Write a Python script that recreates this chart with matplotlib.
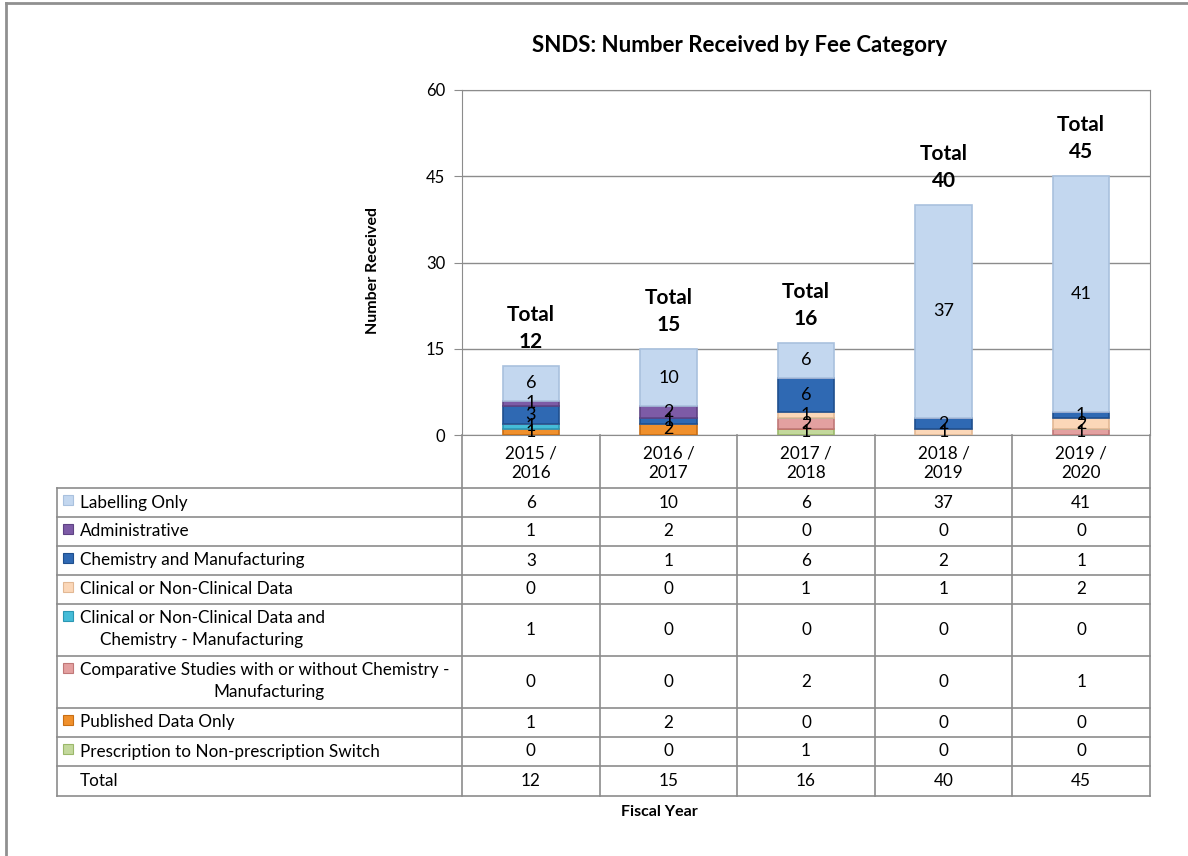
import matplotlib.pyplot as plt
import numpy as np

plt.rcParams['font.family'] = ['Lato', 'DejaVu Sans']

# data
years = ["2015 /\n2016", "2016 /\n2017", "2017 /\n2018", "2018 /\n2019", "2019 /\n2020"]
categories = ["Labelling Only", "Administrative", "Chemistry and Manufacturing",
              "Clinical or Non-Clinical Data",
              "Clinical or Non-Clinical Data and\nChemistry - Manufacturing",
              "Comparative Studies with or without Chemistry -\nManufacturing",
              "Published Data Only", "Prescription to Non-prescription Switch"]
labelling = [6, 10, 6, 37, 41]
administrative = [1, 2, 0, 0, 0]
chemistry = [3, 1, 6, 2, 1]
clinical = [0, 0, 1, 1, 2]
clin_chem = [1, 0, 0, 0, 0]
comparative = [0, 0, 2, 0, 1]
published = [1, 2, 0, 0, 0]
prescription = [0, 0, 1, 0, 0]
series = [labelling, administrative, chemistry, clinical, clin_chem,
          comparative, published, prescription]
colors = ["#c3d7ef", "#7d5ba6", "#2f69b3", "#fbd7b8", "#45bcd8",
          "#e3a0a0", "#f0902c", "#c3d89c"]
edges = ["#a9c1de", "#5f4384", "#1f4f8e", "#e2b894", "#2b97b3",
         "#c07878", "#c86e14", "#9bb86a"]
totals = [sum(v) for v in zip(*series)]

W, H = 1188, 856
fig = plt.figure(figsize=(W / 100, H / 100), dpi=100)

# plot area in pixels
x0, x1, y0, y1 = 462, 1150, 435, 90
ax = fig.add_axes([x0 / W, 1 - y0 / H, (x1 - x0) / W, (y0 - y1) / H])
ax.set_xlim(-0.5, 4.5)
ax.set_ylim(0, 60)
ax.set_yticks([0, 15, 30, 45, 60])
ax.set_xticks([])
ax.grid(axis='y', color='#8c8c8c', linewidth=1)
ax.set_axisbelow(True)
for s in ax.spines.values():
    s.set_color('#8c8c8c')
ax.tick_params(axis='y', direction='out', length=6, color='#8c8c8c',
               labelsize=12, pad=6)

x = np.arange(len(years))
bottom = np.zeros(len(years))
# stack from the last category (bottom) to the first (top)
for vals, c, e in zip(series[::-1], colors[::-1], edges[::-1]):
    vals = np.array(vals, dtype=float)
    ax.bar(x, vals, bottom=bottom, width=0.41, color=c, edgecolor=e,
           linewidth=1.2, zorder=3)
    for xi, v, b in zip(x, vals, bottom):
        if v > 0:
            ax.text(xi, b + v / 2, f"{int(v)}", ha='center', va='center',
                    fontsize=13, zorder=4)
    bottom += vals

for xi, t in zip(x, totals):
    ax.text(xi, t + 2.4, f"Total\n{t}", ha='center', va='bottom',
            fontsize=15, fontweight='bold', linespacing=1.45)

fig.text(740 / W, 1 - 45 / H, "SNDS: Number Received by Fee Category",
         ha='center', va='center', fontsize=16, fontweight='bold')
fig.text(373 / W, 1 - 270 / H, "Number Received", rotation=90, ha='center',
         va='center', fontsize=11.5, fontweight='bold')

# overlay for the data table and frame (pixel coordinates)
ov = fig.add_axes([0, 0, 1, 1])
ov.set_xlim(0, W)
ov.set_ylim(H, 0)
ov.axis('off')
ov.patch.set_alpha(0)

lc = '#8c8c8c'
ov.plot([6, 6], [3, H], color='#909090', lw=2)
ov.plot([6, W], [3, 3], color='#909090', lw=2)

fs = 12.3
tl = 57
col_w = (x1 - x0) / len(years)
col_x = [x0 + i * col_w for i in range(len(years) + 1)]
row_h = [52 if '\n' in c else 29 for c in categories] + [30]
row_y = [488]
for h in row_h:
    row_y.append(row_y[-1] + h)

for cx in col_x:
    ov.plot([cx, cx], [y0, row_y[-1]], color=lc, lw=1.2)
ov.plot([tl, tl], [row_y[0], row_y[-1]], color=lc, lw=1.2)
for ry in row_y:
    ov.plot([tl, x1], [ry, ry], color=lc, lw=1.2)

for i, yl in enumerate(years):
    ov.text(col_x[i] + col_w / 2, (y0 + row_y[0]) / 2 + 2, yl, ha='center',
            va='center', fontsize=fs, linespacing=1.25)

rows_vals = series + [totals]
labels = categories + ["Total"]
for r, (lab, vals) in enumerate(zip(labels, rows_vals)):
    ym = (row_y[r] + row_y[r + 1]) / 2
    for i, v in enumerate(vals):
        ov.text(col_x[i] + col_w / 2, ym, str(v), ha='center', va='center',
                fontsize=fs)
    if r < len(categories):
        ov.add_patch(plt.Rectangle((63, row_y[r] + 7), 10, 10,
                                   facecolor=colors[r], edgecolor=edges[r], lw=0.8))
        parts = lab.split('\n')
        if len(parts) == 1:
            ov.text(80, ym, lab, ha='left', va='center', fontsize=fs)
        else:
            ov.text(80, row_y[r] + 14, parts[0], ha='left', va='center',
                    fontsize=fs)
            if r == 4:
                ov.text(100, row_y[r] + 36, parts[1], ha='left', va='center',
                        fontsize=fs)
            else:
                ov.text(269, row_y[r] + 36, parts[1],
                        ha='center', va='center', fontsize=fs)
    else:
        ov.text(80, ym, lab, ha='left', va='center', fontsize=fs)

ov.text(659, 812, "Fiscal Year", ha='center', va='center', fontsize=11.5,
        fontweight='bold')

fig.savefig("out.png", dpi=100)
